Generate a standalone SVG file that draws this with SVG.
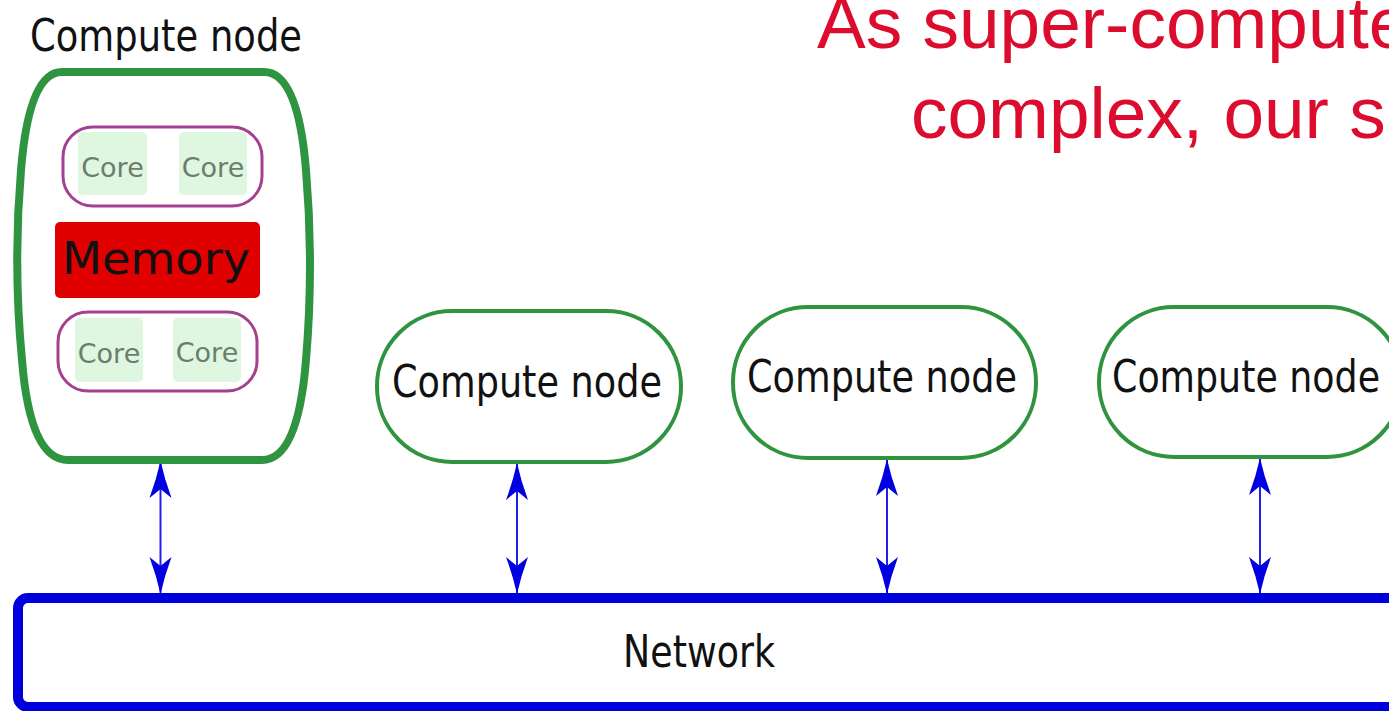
<svg xmlns="http://www.w3.org/2000/svg" width="1389" height="711" viewBox="0 0 1389 711">
<style>
.node{fill:#fff;stroke:#2f9440;stroke-width:4}
.lbl{font-family:"DejaVu Sans",Verdana,sans-serif;fill:#111;font-size:44px}
.grp{fill:#fff;stroke:#a3418f;stroke-width:3}
.core{fill:#dff6e0}
.coret{font-family:"DejaVu Sans",Verdana,sans-serif;fill:#6b7d6b;font-size:27px;text-anchor:middle}
.title{font-family:"Liberation Sans",Arial,sans-serif;fill:#dc0c2e;font-size:73px}
.link{stroke:#1f1fee;stroke-width:2;fill:none}
</style>
<defs>
<marker id="ah" markerUnits="userSpaceOnUse" viewBox="-40 -13 42 26" markerWidth="42" markerHeight="26" refX="0" refY="0" orient="auto-start-reverse">
<path d="M0,0 Q-18,-4 -37,-11 L-28,0 L-37,11 Q-18,4 0,0 Z" fill="#0000e0"/>
</marker>
</defs>
<rect width="1389" height="711" fill="#fff"/>
<g id="title">
<text class="title" x="817" y="48">As super-compute</text>
<text class="title" x="911" y="138">complex, our s</text>
</g>
<g id="connectors">
<line class="link" x1="160.5" y1="461" x2="160.5" y2="594" marker-start="url(#ah)" marker-end="url(#ah)"/>
<line class="link" x1="517" y1="463" x2="517" y2="594" marker-start="url(#ah)" marker-end="url(#ah)"/>
<line class="link" x1="887" y1="459" x2="887" y2="594" marker-start="url(#ah)" marker-end="url(#ah)"/>
<line class="link" x1="1260" y1="458" x2="1260" y2="594" marker-start="url(#ah)" marker-end="url(#ah)"/>
</g>
<g id="node1">
<text class="lbl" x="30" y="51" textLength="272" lengthAdjust="spacingAndGlyphs">Compute node</text>
<path d="M62,72 H264 Q298,72 306,170 Q314,265 306,360 Q298,460 262,460 H68 Q30,460 22,360 Q13,265 21,170 Q29,72 62,72 Z" fill="#fff" stroke="#2f9440" stroke-width="8"/>
<g id="node1-cores-top">
<rect class="grp" x="63" y="127" width="199" height="79" rx="30"/>
<rect class="core" x="78" y="132" width="69" height="63" rx="5"/>
<rect class="core" x="179" y="132" width="68" height="63" rx="5"/>
<text class="coret" x="112.5" y="177">Core</text>
<text class="coret" x="213" y="177">Core</text>
</g>
<g id="node1-memory">
<rect x="55" y="222" width="205" height="76" rx="5" fill="#e00000"/>
<text class="lbl" x="62" y="274" font-size="54" textLength="188" lengthAdjust="spacingAndGlyphs" fill="#000">Memory</text>
</g>
<g id="node1-cores-bottom">
<rect class="grp" x="58" y="312" width="199" height="79" rx="30"/>
<rect class="core" x="75" y="318" width="68" height="64" rx="5"/>
<rect class="core" x="173" y="318" width="68" height="64" rx="5"/>
<text class="coret" x="109" y="363">Core</text>
<text class="coret" x="207" y="362">Core</text>
</g>
</g>
<g id="node2">
<rect class="node" x="377" y="311" width="304" height="151" rx="75"/>
<text class="lbl" x="392" y="397" textLength="270" lengthAdjust="spacingAndGlyphs">Compute node</text>
</g>
<g id="node3">
<rect class="node" x="733" y="307" width="303" height="151" rx="75"/>
<text class="lbl" x="747" y="392" textLength="270" lengthAdjust="spacingAndGlyphs">Compute node</text>
</g>
<g id="node4">
<rect class="node" x="1099" y="307" width="303" height="150" rx="75"/>
<text class="lbl" x="1112" y="392" textLength="268" lengthAdjust="spacingAndGlyphs">Compute node</text>
</g>
<g id="network">
<rect x="18" y="598" width="1390" height="109" rx="10" fill="#fff" stroke="#0000dd" stroke-width="10"/>
<text class="lbl" x="623" y="667" font-size="46" textLength="152" lengthAdjust="spacingAndGlyphs">Network</text>
</g>
</svg>
